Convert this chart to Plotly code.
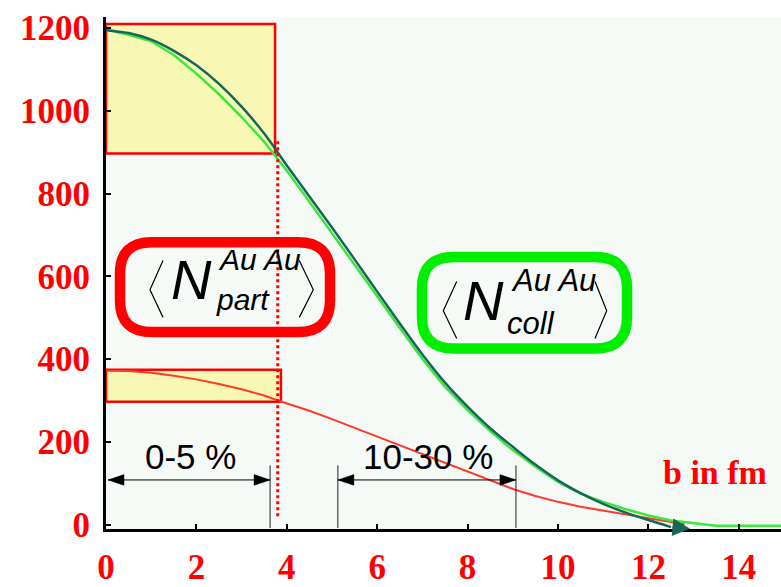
import plotly.graph_objects as go

# ---------------- data ----------------
b_glauber = [0, 0.5, 1, 1.5, 2, 2.5, 3, 3.5, 4, 4.5, 5, 5.5, 6, 6.5, 7, 7.5,
             8, 8.5, 9, 9.5, 10, 10.5, 11, 11.5, 12, 12.5]
ncoll_glauber = [1195, 1188, 1172, 1145, 1110, 1065, 1010, 945, 868, 793, 718, 641,
                 563, 486, 411, 343, 285, 233, 188, 145, 107, 76, 50, 29, 11, -6]

b_hist = [0, 0.25, 0.5, 1, 1.5, 2, 2.5, 3, 3.5, 4, 4.5, 5, 5.5, 6, 6.5, 7, 7.5,
          8, 8.5, 9, 9.5, 10, 10.5, 11, 11.5, 12, 12.5, 13, 13.5, 14, 15]
ncoll_hist = [1198, 1190, 1184, 1168, 1135, 1090, 1040, 985, 925, 855, 780, 705,
              628, 552, 475, 400, 333, 277, 226, 180, 140, 103, 75, 55, 37, 22,
              10, 3, -3, -3, -3]

b_part = [0, 0.5, 1, 1.5, 2, 2.5, 3, 3.5, 3.8, 4.5, 5, 5.5, 6, 6.5, 7, 7.5, 8,
          8.5, 9, 9.5, 10, 10.5, 11, 11.5, 12, 12.5, 12.8]
npart = [372, 371, 367, 360, 351, 340, 327, 312, 300, 275, 255, 234, 213, 192,
         171, 150, 129, 107, 86, 69, 55, 43, 34, 25, 15, 7, 1]

x_ticks = [0, 2, 4, 6, 8, 10, 12, 14]
y_ticks = [0, 200, 400, 600, 800, 1000, 1200]

# centrality windows (b in fm) and marked ranges
cent_05 = (0.0, 3.63)
cent_1030 = (5.13, 9.07)
b_cut = 3.8
box_coll = (0.0, 3.74, 897, 1210)
box_part = (0.0, 3.87, 297, 374)

# ---------------- geometry helpers (pixel -> data) ----------------
XPX0, XS = 106.0, 45.2
YPX0, YS = 537.5, 0.4243


def dx(px):
    return (px - XPX0) / XS


def dy(py):
    return (YPX0 - py) / YS


RED = "#FF0000"
DKGREEN = "#17665A"
LTGREEN = "#3AE83A"
CURVE_RED = "#FF3A2A"
YELLOW = "#F8F8B4"
BG = "#F5FAF7"

fig = go.Figure()

fig.add_trace(go.Scatter(x=b_part, y=npart, mode="lines",
                         line=dict(color=CURVE_RED, width=2), showlegend=False))
fig.add_trace(go.Scatter(x=b_hist, y=ncoll_hist, mode="lines",
                         line=dict(color=LTGREEN, width=2.5), showlegend=False))
fig.add_trace(go.Scatter(x=b_glauber, y=ncoll_glauber, mode="lines", line_shape="spline",
                         line=dict(color=DKGREEN, width=2.5), showlegend=False))

shapes = []
# background slightly larger than plot area
shapes.append(dict(type="rect", xref="paper", yref="paper", x0=-6 / 675, x1=1,
                   y0=-1 / 525, y1=1, fillcolor=BG, line_width=0, layer="below"))
# yellow boxes
shapes.append(dict(type="rect", xref="x", yref="y", x0=box_coll[0], x1=box_coll[1],
                   y0=box_coll[2], y1=box_coll[3], fillcolor=YELLOW,
                   line=dict(color=RED, width=2.5), layer="below"))
shapes.append(dict(type="rect", xref="x", yref="y", x0=box_part[0], x1=box_part[1],
                   y0=box_part[2], y1=box_part[3], fillcolor=YELLOW,
                   line=dict(color=RED, width=2.5), layer="below"))
# dotted red line
shapes.append(dict(type="line", xref="x", yref="y", x0=b_cut, x1=b_cut, y0=20, y1=930,
                   line=dict(color=RED, width=3, dash="dot"), layer="above"))


def rounded(x0, y0, x1, y1, r):
    pts = [("M", [(x0 + r, y0)]), ("L", [(x1 - r, y0)]), ("Q", [(x1, y0), (x1, y0 + r)]),
           ("L", [(x1, y1 - r)]), ("Q", [(x1, y1), (x1 - r, y1)]), ("L", [(x0 + r, y1)]),
           ("Q", [(x0, y1), (x0, y1 - r)]), ("L", [(x0, y0 + r)]),
           ("Q", [(x0, y0), (x0 + r, y0)])]
    s = ""
    for cmd, ps in pts:
        s += cmd + " " + " ".join(f"{dx(a):.4f},{dy(b):.4f}" for a, b in ps) + " "
    return s + "Z"


shapes.append(dict(type="path", xref="x", yref="y", path=rounded(120, 248, 330, 340, 32),
                   line=dict(color=RED, width=10.5), layer="above"))
shapes.append(dict(type="path", xref="x", yref="y", path=rounded(422, 263, 627, 357, 32),
                   line=dict(color="#00EE00", width=10.5), layer="above"))


def bracket(pts):
    return "M " + " L ".join(f"{dx(a):.4f},{dy(b):.4f}" for a, b in pts)


for pts in ([(163, 266.7), (150, 296.7), (163, 325)],
            [(299.3, 266.7), (313.3, 296.7), (299.3, 325)],
            [(456.7, 288.3), (443.3, 318.3), (456.7, 346.7)],
            [(595, 288.3), (606.7, 318.3), (595, 346.7)]):
    shapes.append(dict(type="path", xref="x", yref="y", path=bracket(pts),
                       line=dict(color="black", width=1.2), layer="above"))

# centrality arrows
AY = 491.7
for (xa, xb) in (cent_05, cent_1030):
    pa, pb = XPX0 + xa * XS, XPX0 + xb * XS
    if xa == 0:
        pa = 108
    shapes.append(dict(type="line", xref="x", yref="y", x0=dx(pa), x1=dx(pb), y0=dy(AY), y1=dy(AY),
                       line=dict(color="black", width=1), layer="above"))
    shapes.append(dict(type="path", xref="x", yref="y",
                       path=bracket([(pa, AY), (pa + 16, AY - 5.5), (pa + 16, AY + 5.5)]) + " Z",
                       fillcolor="black", line=dict(color="black", width=0.5), layer="above"))
    shapes.append(dict(type="path", xref="x", yref="y",
                       path=bracket([(pb, AY), (pb - 16, AY - 5.5), (pb - 16, AY + 5.5)]) + " Z",
                       fillcolor="black", line=dict(color="black", width=0.5), layer="above"))
for xv in (cent_05[1], cent_1030[0], cent_1030[1]):
    shapes.append(dict(type="line", xref="x", yref="y", x0=xv, x1=xv, y0=dy(476.7), y1=dy(541),
                       line=dict(color="#222222", width=1), layer="above"))

ann = []
SANS = "Liberation Sans, Arial, sans-serif"
SERIF = "Liberation Serif, Times New Roman, serif"


def txt(text, px, py, size, xanchor="center", family=SANS, style="italic", color="black",
        weight="normal"):
    ann.append(dict(text=text, x=dx(px), y=dy(py), xref="x", yref="y", showarrow=False,
                    xanchor=xanchor, yanchor="middle",
                    font=dict(family=family, size=size, color=color, style=style, weight=weight)))


txt("N", 191.5, 286, 56)
txt("Au Au", 216, 266, 30, xanchor="left")
txt("part", 214, 307, 30, xanchor="left")
txt("N", 483.3, 307.5, 56)
txt("Au Au", 509, 287.5, 31, xanchor="left")
txt("coll", 505, 331, 31, xanchor="left")
txt("0-5 %", 190, 468, 35, style="normal")
txt("10-30 %", 428, 468, 35, style="normal")
txt("b in fm", 715, 484, 34, family=SERIF, style="normal", color=RED, weight="bold")

# arrowhead at end of Glauber curve
ann.append(dict(x=12.92, y=-10, ax=b_glauber[-1], ay=ncoll_glauber[-1], xref="x", yref="y",
                axref="x", ayref="y", showarrow=True, arrowhead=2, arrowsize=1.4,
                arrowwidth=2.5, arrowcolor=DKGREEN, standoff=0, text=""))

fig.update_layout(
    width=781, height=587,
    margin=dict(l=106, r=0, t=17, b=45),
    paper_bgcolor="white", plot_bgcolor=BG,
    shapes=shapes, annotations=ann,
    xaxis=dict(range=[dx(106), dx(781)], tickvals=x_ticks, ticktext=[str(v) for v in x_ticks],
               showgrid=False, zeroline=False, showline=True, linecolor="black", linewidth=3,
               ticks="inside", ticklen=5, tickwidth=2, tickcolor="black",
               tickfont=dict(family=SERIF, size=35, color=RED, weight="bold"),
               ticklabelstandoff=5),
    yaxis=dict(range=[dy(542), dy(17)], tickvals=y_ticks, ticktext=[str(v) for v in y_ticks],
               showgrid=False, zeroline=False, showline=True, linecolor="black", linewidth=3,
               ticks="inside", ticklen=5, tickwidth=2, tickcolor="black",
               tickfont=dict(family=SERIF, size=35, color=RED, weight="bold"),
               ticklabelstandoff=6),
)

fig.write_html("out.html")
